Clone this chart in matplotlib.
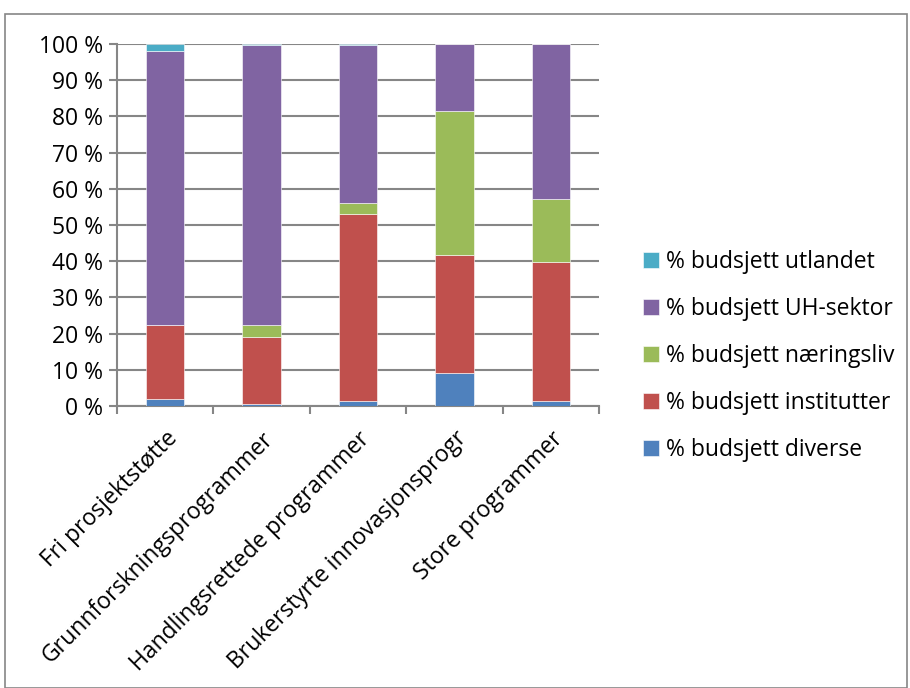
import matplotlib.pyplot as plt
import matplotlib.patches as patches
import numpy as np

plt.rcParams['font.family'] = ['Open Sans', 'DejaVu Sans']

programmer = ['Fri prosjektstøtte', 'Grunnforskningsprogrammer', 'Handlingsrettede programmer',
              'Brukerstyrte innovasjonsprogr', 'Store programmer']
diverse = [1.8, 0.5, 1.3, 9.1, 1.3]
institutter = [20.7, 18.6, 51.8, 32.7, 38.6]
naeringsliv = [0.0, 3.4, 2.9, 39.7, 17.2]
uh_sektor = [75.6, 77.3, 43.7, 18.5, 42.8]
utlandet = [1.9, 0.2, 0.3, 0.0, 0.1]

serier = [
    ('% budsjett diverse', diverse, '#4f81bd'),
    ('% budsjett institutter', institutter, '#c0504d'),
    ('% budsjett næringsliv', naeringsliv, '#9bbb59'),
    ('% budsjett UH-sektor', uh_sektor, '#8064a2'),
    ('% budsjett utlandet', utlandet, '#4bacc6'),
]

fig = plt.figure(figsize=(9.1, 6.88), dpi=100)
ax = fig.add_axes([117 / 910, 1 - 406 / 688, 482 / 910, 362 / 688])

x = np.arange(len(programmer))
bunn = np.zeros(len(programmer))
handles = []
for navn, verdier, farge in serier:
    b = ax.bar(x, verdier, bottom=bunn, width=0.4, color=farge, edgecolor='white',
               linewidth=0.4, label=navn, zorder=3)
    handles.append(b)
    bunn += np.array(verdier)

fs = 16.5
ax.set_xlim(-0.5, len(programmer) - 0.5)
ax.set_ylim(0, 100)
ax.set_yticks(np.arange(0, 101, 10))
ax.set_yticklabels([f'{v} %' for v in range(0, 101, 10)], fontsize=fs)
ax.set_xticks(np.arange(-0.5, len(programmer), 1.0))
ax.set_xticklabels([])
ax.set_xticks(x, minor=True)
ax.set_xticklabels(programmer, minor=True, rotation=45, ha='right', rotation_mode='anchor',
                   fontsize=fs)
ax.tick_params(axis='x', which='minor', length=0, pad=15)
ax.tick_params(axis='x', which='major', length=6, direction='out', color='#868686', width=1.5)
ax.tick_params(axis='y', length=6, direction='out', color='#868686', width=1.5, pad=4)
ax.grid(axis='y', color='#868686', linewidth=1.5, zorder=0)
for s in ['top', 'right']:
    ax.spines[s].set_visible(False)
for s in ['left', 'bottom']:
    ax.spines[s].set_color('#868686')
    ax.spines[s].set_linewidth(1.5)

fig.legend(handles[::-1], [s[0] for s in serier][::-1], loc='center left',
           bbox_to_anchor=(622 / 910, 1 - 356 / 688), frameon=False, fontsize=fs,
           handlelength=0.7, handleheight=0.7, handletextpad=0.3, labelspacing=1.0)

fig.patches.append(patches.Rectangle((5 / 910, 0), 902 / 910, 1 - 14 / 688, transform=fig.transFigure,
                                     fill=False, edgecolor='#868686', linewidth=1.2))

fig.savefig('out.png', dpi=100)
